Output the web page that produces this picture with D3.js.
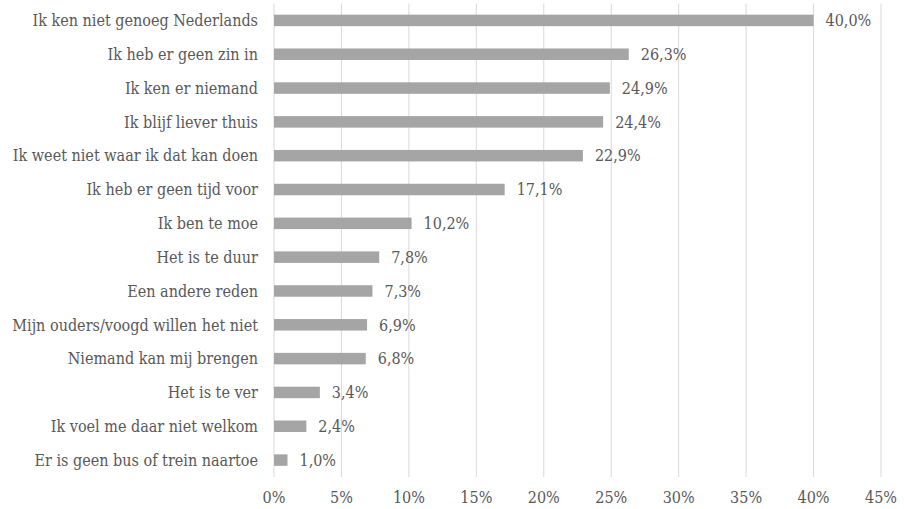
<!DOCTYPE html>
<html>
<head>
<meta charset="utf-8">
<script src="https://cdn.jsdelivr.net/npm/d3@7"></script>
</head>
<body style="margin:0">
<script>
const categories = [
  'Ik ken niet genoeg Nederlands',
  'Ik heb er geen zin in',
  'Ik ken er niemand',
  'Ik blijf liever thuis',
  'Ik weet niet waar ik dat kan doen',
  'Ik heb er geen tijd voor',
  'Ik ben te moe',
  'Het is te duur',
  'Een andere reden',
  'Mijn ouders/voogd willen het niet',
  'Niemand kan mij brengen',
  'Het is te ver',
  'Ik voel me daar niet welkom',
  'Er is geen bus of trein naartoe'
];
const values = [40.0, 26.3, 24.9, 24.4, 22.9, 17.1, 10.2, 7.8, 7.3, 6.9, 6.8, 3.4, 2.4, 1.0];
const ticks = [0, 5, 10, 15, 20, 25, 30, 35, 40, 45];

const width = 904, height = 509;
const margin = { top: 3.5, right: 23, bottom: 32, left: 274 };
const font = "'DejaVu Serif Condensed', 'DejaVu Serif', serif";
const fontSize = 16;
const textColor = '#595959';

const svg = d3.select('body').append('svg')
  .attr('width', width)
  .attr('height', height);

const x = d3.scaleLinear().domain([0, 45]).range([margin.left, width - margin.right]);
const y = d3.scaleBand().domain(categories).range([margin.top, height - margin.bottom]).paddingInner(0.66).paddingOuter(0.33);

const data = categories.map((c, i) => ({ cat: c, val: values[i] }));

// gridlines
ticks.forEach(t => {
  svg.append('line')
    .attr('x1', x(t)).attr('x2', x(t))
    .attr('y1', margin.top).attr('y2', height - margin.bottom)
    .attr('stroke', '#d9d9d9').attr('stroke-width', 1);
});

// bars
data.forEach(d => {
  svg.append('rect')
    .attr('x', x(0))
    .attr('y', y(d.cat))
    .attr('width', x(d.val) - x(0))
    .attr('height', y.bandwidth())
    .attr('fill', '#a5a5a5');
});

function label(xp, yp, txt, anchor) {
  return svg.append('text')
    .attr('x', xp).attr('y', yp)
    .attr('font-size', fontSize)
    .attr('fill', textColor)
    .attr('text-anchor', anchor)
    .style('font-family', font)
    .style('font-stretch', 'condensed')
    .text(txt);
}

// x tick labels
ticks.forEach(t => label(x(t), height - 6, t + '%', 'middle'));

// value labels + category labels
data.forEach(d => {
  const cy = y(d.cat) + y.bandwidth() / 2 + 5.8;
  label(x(d.val) + 12, cy, d.val.toFixed(1).replace('.', ',') + '%', 'start');
  label(margin.left - 16, cy, d.cat, 'end');
});
</script>
</body>
</html>
